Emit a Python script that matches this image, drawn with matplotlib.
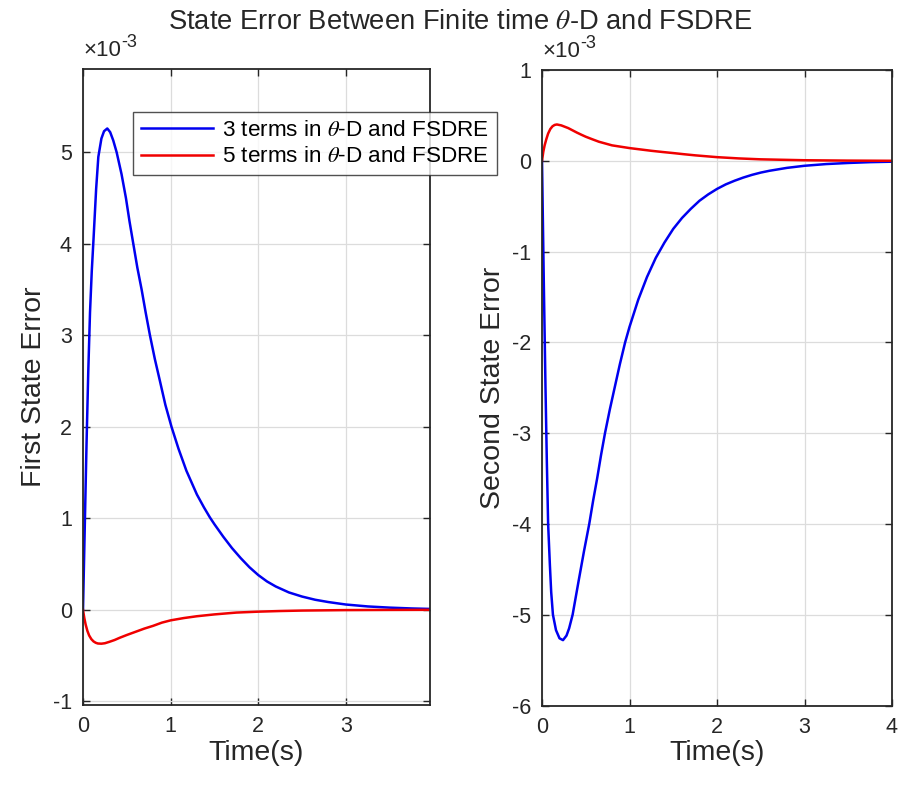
import numpy as np
import matplotlib
matplotlib.use("Agg")
import matplotlib.pyplot as plt

plt.rcParams['font.family'] = ['Liberation Sans', 'DejaVu Sans']
plt.rcParams['mathtext.fontset'] = 'stix'
plt.rcParams['axes.unicode_minus'] = False

# values, errors in units of 1e-3
t_blue1 = [0, .02, .04, .06, .08, .10, .12, .15, .175, .21, .24, .277, .31, .345, .384, .44, .49,
           .53, .574, .62, .669, .715, .764, .82, .878, .94, 1.01, 1.09, 1.18, 1.3, 1.38, 1.448,
           1.5, 1.6, 1.7, 1.8, 1.9, 2.0, 2.1, 2.2, 2.35, 2.5, 2.65, 2.8, 3.0, 3.25, 3.5, 3.75, 3.96]
e_blue1 = [0, .9, 1.8, 2.6, 3.25, 3.7, 4.05, 4.6, 4.95, 5.15, 5.23, 5.26, 5.22, 5.13, 5.0, 4.76, 4.5,
           4.25, 4.0, 3.74, 3.5, 3.25, 3.0, 2.74, 2.5, 2.24, 2.0, 1.76, 1.52, 1.26, 1.12, 1.01,
           .935, .80, .675, .565, .465, .38, .31, .255, .19, .145, .11, .085, .058, .037, .024,
           .015, .01]

t_red1 = [0, .015, .03, .05, .07, .095, .12, .145, .17, .21, .25, .3, .36, .42, .5, .6, .7, .8,
          .9, 1.0, 1.15, 1.3, 1.5, 1.75, 2.0, 2.25, 2.5, 3.0, 3.5, 3.96]
e_red1 = [0, -.09, -.16, -.23, -.28, -.32, -.345, -.36, -.368, -.37, -.365, -.35, -.33, -.305,
          -.275, -.24, -.205, -.175, -.14, -.115, -.09, -.07, -.05, -.03, -.02, -.013, -.008,
          -.003, -.001, 0]

t_blue2 = [0, .02, .04, .055, .07, .09, .105, .125, .16, .20, .24, .28, .31, .35, .42, .48, .54,
           .585, .63, .675, .72, .775, .83, .89, .95, 1.0, 1.1, 1.2, 1.3, 1.4, 1.5, 1.6, 1.7, 1.8,
           1.9, 2.0, 2.1, 2.2, 2.3, 2.4, 2.5, 2.6, 2.8, 3.0, 3.25, 3.5, 3.75, 4.0]
e_blue2 = [0, -1.3, -2.5, -3.3, -4.0, -4.45, -4.75, -5.0, -5.17, -5.26, -5.28, -5.23, -5.15, -5.0,
           -4.62, -4.3, -4.0, -3.74, -3.5, -3.24, -3.0, -2.74, -2.5, -2.24, -2.0, -1.83, -1.53,
           -1.28, -1.07, -.90, -.75, -.63, -.53, -.44, -.37, -.31, -.26, -.22, -.185, -.155,
           -.13, -.11, -.078, -.055, -.036, -.024, -.015, -.01]

t_red2 = [0, .015, .03, .05, .07, .095, .12, .145, .17, .22, .26, .3, .35, .4, .45, .5, .575,
          .65, .725, .8, .9, 1.0, 1.125, 1.25, 1.375, 1.5, 1.625, 1.75, 1.875, 2.0, 2.25, 2.5,
          3.0, 3.5, 4.0]
e_red2 = [0, .1, .17, .24, .30, .35, .38, .395, .40, .39, .375, .36, .335, .31, .287, .265, .237,
          .21, .19, .17, .155, .14, .125, .11, .097, .085, .072, .06, .05, .04, .026, .016,
          .006, .002, 0]

labels = ['3 terms in $\\theta$-D and FSDRE', '5 terms in $\\theta$-D and FSDRE']

fig = plt.figure(figsize=(9, 7.88), dpi=100)
W, H = 900.0, 788.0
ax1 = fig.add_axes([83 / W, 1 - 705 / H, (430 - 83) / W, (705 - 69) / H])
ax2 = fig.add_axes([542 / W, 1 - 705.5 / H, (892 - 542) / W, (705.5 - 70) / H])

ax1.plot(t_blue1, e_blue1, color='#0000f0', lw=1.8, label=labels[0])
ax1.plot(t_red1, e_red1, color='#f00000', lw=1.8, label=labels[1])
ax2.plot(t_blue2, e_blue2, color='#0000f0', lw=1.8)
ax2.plot(t_red2, e_red2, color='#f00000', lw=1.8)

ax1.set_xlim(0, 3.96)
ax1.set_ylim(-1.04, 5.91)
ax1.set_xticks([0, 1, 2, 3])
ax1.set_yticks([-1, 0, 1, 2, 3, 4, 5])
ax2.set_xlim(0, 4)
ax2.set_ylim(-6, 1)
ax2.set_xticks([0, 1, 2, 3, 4])
ax2.set_yticks([-6, -5, -4, -3, -2, -1, 0, 1])

for ax, yl in [(ax1, 'First State Error'), (ax2, 'Second State Error')]:
    ax.grid(True, color='#dcdcdc', lw=0.9)
    ax.set_axisbelow(True)
    ax.tick_params(direction='in', top=True, right=True, labelsize=15.5, colors='#262626',
                   length=5, width=1, pad=8)
    for s in ax.spines.values():
        s.set_color('#262626')
        s.set_linewidth(1.3)
    ax.set_xlabel('Time(s)', fontsize=20.5, color='#262626', labelpad=2)
    ax.set_ylabel(yl, fontsize=20.5, color='#262626', labelpad=4)
    # exponent marker, MATLAB style
    base = ax.text(0, 1.012, '×10', transform=ax.transAxes, fontsize=16,
                   color='#262626', ha='left', va='bottom')
    ax.annotate('-3', xy=(1, 0.5), xycoords=base, fontsize=13, color='#262626',
                ha='left', va='bottom')

leg = ax1.legend(loc='upper left', bbox_to_anchor=(133 / W, 1 - 112 / H),
                 bbox_transform=fig.transFigure, fontsize=16.2, handlelength=3.2,
                 frameon=True, fancybox=False, edgecolor='#262626', borderpad=0.35,
                 labelspacing=0.25, handletextpad=0.4, borderaxespad=0)
leg.get_frame().set_linewidth(1.0)

fig.suptitle('State Error Between Finite time $\\theta$-D and FSDRE', x=460 / W, y=1 - 9 / H,
             fontsize=19.7, color='#262626', va='top')

fig.savefig('out.png', dpi=100, facecolor='white')
